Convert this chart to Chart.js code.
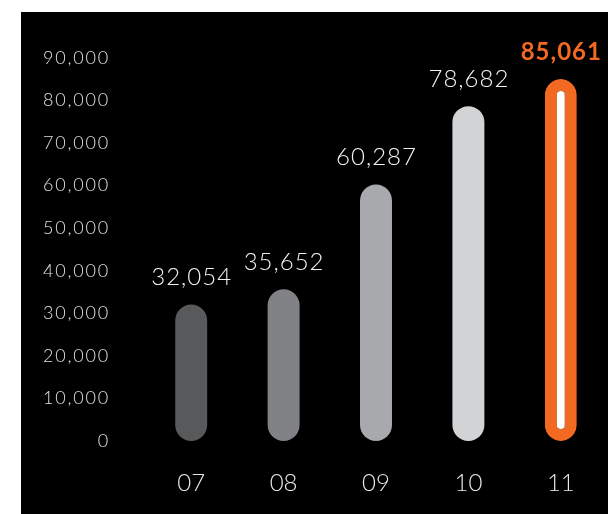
<!DOCTYPE html>
<html><head><meta charset="utf-8">
<script src="https://cdn.jsdelivr.net/npm/chart.js@4"></script>
<style>
html,body{margin:0;padding:0;background:#fff;width:608px;height:514px;overflow:hidden}
#wrap{position:absolute;left:21px;top:12px;width:587px;height:502px;background:#000}
canvas{display:block}
</style></head><body>
<div id="wrap"><canvas id="c" width="587" height="502"></canvas></div>
<script>
const categories = ['07', '08', '09', '10', '11'];
const values = [32054, 35652, 60287, 78682, 85061];
const valueLabels = ['32,054', '35,652', '60,287', '78,682', '85,061'];
const yTickValues = [0, 10000, 20000, 30000, 40000, 50000, 60000, 70000, 80000, 90000];
const barFills = ['#58595b', '#808285', '#a7a9ac', '#d1d3d4', '#ffffff'];
const barStrokes = ['#58595b', '#808285', '#a7a9ac', '#d1d3d4', '#f26a21'];
const barStrokeWidths = [0, 0, 0, 0, 12];
const labelColors = ['#f2f2f2', '#f2f2f2', '#f2f2f2', '#f2f2f2', '#f26a21'];
const labelWeights = ['300', '300', '300', '300', '700'];

const FONT = "Lato, 'Open Sans', sans-serif";

const spacingPlugin = {
  id: 'ySpacing',
  beforeDraw(chart) {
    const y = chart.scales.y;
    if (!y._spaced) {
      const orig = y.drawLabels.bind(y);
      y.drawLabels = function (ca) {
        const c = this.ctx;
        c.save();
        c.letterSpacing = '1.8px';
        orig(ca);
        c.restore();
      };
      y._spaced = true;
    }
  }
};

const valueLabelPlugin = {
  id: 'valueLabels',
  afterDatasetsDraw(chart) {
    const ctx = chart.ctx;
    const meta = chart.getDatasetMeta(0);
    ctx.save();
    ctx.textAlign = 'center';
    ctx.textBaseline = 'middle';
    ctx.letterSpacing = '1px';
    meta.data.forEach((el, i) => {
      ctx.font = labelWeights[i] + ' 24px ' + FONT;
      ctx.fillStyle = labelColors[i];
      ctx.fillText(valueLabels[i], el.x + 0.5, el.y - 27);
    });
    ctx.restore();
  }
};

new Chart(document.getElementById('c'), {
  type: 'bar',
  data: {
    labels: categories,
    datasets: [{
      data: values,
      backgroundColor: barFills,
      borderColor: barStrokes,
      borderWidth: barStrokeWidths,
      borderRadius: 100,
      borderSkipped: false,
      barPercentage: 0.346,
      categoryPercentage: 1.0
    }]
  },
  options: {
    responsive: false,
    animation: false,
    devicePixelRatio: 1,
    layout: { padding: { top: 46, right: 1, left: 0, bottom: 0 } },
    plugins: { legend: { display: false }, tooltip: { enabled: false } },
    scales: {
      x: {
        grid: { display: false, drawTicks: false },
        border: { display: false },
        ticks: { color: '#e8e8e8', padding: 28, font: { family: FONT, size: 24, weight: '300' } },
        afterFit(scale) { scale.height = 73; }
      },
      y: {
        min: 0, max: 90000,
        afterBuildTicks(scale) { scale.ticks = yTickValues.map(v => ({ value: v })); },
        grid: { display: false, drawTicks: false },
        border: { display: false },
        ticks: {
          color: '#e0e0e0', padding: 35,
          font: { family: FONT, size: 18, weight: '300' },
          callback: v => Number(v).toLocaleString('en-US')
        },
        afterFit(scale) { scale.width = 124; }
      }
    }
  },
  plugins: [spacingPlugin, valueLabelPlugin]
});
</script>
</body></html>
